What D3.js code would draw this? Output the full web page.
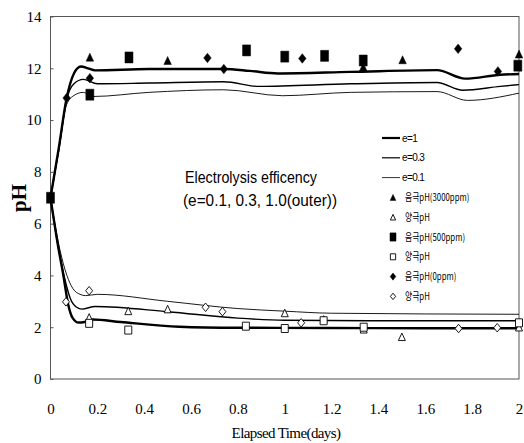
<!DOCTYPE html>
<html>
<head>
<meta charset="utf-8">
<script src="https://cdn.jsdelivr.net/npm/d3@7"></script>
<style>
  html, body { margin: 0; padding: 0; background: #fff; }
  svg { display: block; }
</style>
</head>
<body>
<svg id="chart" width="524" height="443"></svg>
<script>
// ---- data ----
const xTicks = [0, 0.2, 0.4, 0.6, 0.8, 1, 1.2, 1.4, 1.6, 1.8, 2];
const yTicks = [0, 2, 4, 6, 8, 10, 12, 14];

// model curves, [days, pH]
const cathodeE1 = [[0,7.0],[0.035,8.9],[0.069,10.85],[0.1,11.8],[0.13,12.07],[0.16,12.0],[0.19,11.92],[0.42,11.97],[0.74,11.97],[0.85,11.9],[0.97,11.8],[1.28,11.86],[1.65,11.93],[1.77,11.6],[1.92,11.75],[2.0,11.78]];
const cathodeE03 = [[0,7.0],[0.035,8.85],[0.069,10.8],[0.1,11.4],[0.14,11.57],[0.2,11.4],[0.42,11.43],[0.74,11.48],[0.89,11.3],[1.28,11.4],[1.65,11.45],[1.76,11.15],[1.92,11.3],[2.0,11.37]];
const cathodeE01 = [[0,7.0],[0.035,8.8],[0.069,10.6],[0.1,10.95],[0.14,11.07],[0.18,10.91],[0.42,11.07],[0.74,11.17],[0.99,10.94],[1.28,11.07],[1.65,11.1],[1.78,10.76],[2.0,11.04]];
const anodeE1 = [[0,7.0],[0.033,5.1],[0.055,4.0],[0.075,2.9],[0.095,2.35],[0.12,2.18],[0.145,2.2],[0.18,2.3],[0.3,2.2],[0.55,2.02],[0.8,1.98],[1.2,1.97],[1.6,1.96],[2.0,1.96]];
const anodeE03 = [[0,7.0],[0.035,5.0],[0.06,3.9],[0.085,3.1],[0.11,2.78],[0.135,2.7],[0.19,2.8],[0.5,2.6],[0.8,2.35],[1.0,2.27],[1.5,2.25],[2.0,2.25]];
const anodeE01 = [[0,7.0],[0.04,5.0],[0.07,4.0],[0.095,3.5],[0.126,3.27],[0.15,3.22],[0.2,3.27],[0.5,3.0],[0.8,2.72],[1.0,2.62],[1.2,2.54],[2.0,2.5]];

// measured points, [days, pH]
const cathode3000 = [[0.168,12.43],[0.5,12.3],[1.335,12.05],[1.503,12.33],[2.0,12.55]];
const anode3000 = [[0.165,2.38],[0.332,2.63],[0.5,2.7],[1.0,2.55],[1.166,2.3],[1.337,1.92],[1.5,1.63],[2.0,2.0]];
const cathode500 = [[0,7.0],[0.168,10.98],[0.335,12.42],[0.837,12.69],[1.0,12.45],[1.17,12.48],[1.335,12.3],[1.995,12.1]];
const anode500 = [[0.165,2.15],[0.332,1.89],[0.834,2.04],[1.0,1.95],[1.166,2.25],[1.337,2.0],[2.0,2.17]];
const cathode0 = [[0.069,10.85],[0.168,11.62],[0.67,12.4],[0.74,11.97],[1.075,12.38],[1.74,12.75],[1.91,11.88]];
const anode0 = [[0.066,2.98],[0.165,3.41],[0.662,2.77],[0.734,2.6],[1.07,2.17],[1.742,1.95],[1.907,1.98]];

const lineLabels = ["e=1", "e=0.3", "e=0.1"];
const pointLabels = ["음극pH(3000ppm)", "양극pH", "음극pH(500ppm)", "양극pH", "음극pH(0ppm)", "양극pH"];

// ---- layout ----
const svg = d3.select("#chart");
const m = { left: 50.5, right: 519, top: 16.5, bottom: 379 };
const x = d3.scaleLinear().domain([0, 2]).range([m.left, m.right]);
const y = d3.scaleLinear().domain([0, 14]).range([m.bottom, m.top]);

// frame
svg.append("rect")
  .attr("x", m.left).attr("y", m.top)
  .attr("width", m.right - m.left).attr("height", m.bottom - m.top)
  .attr("fill", "none").attr("stroke", "#555").attr("stroke-width", 1);

// axes
const fmt = d => String(+d.toFixed(1));
const xAxis = svg.append("g").attr("transform", `translate(0,${m.bottom})`)
  .call(d3.axisBottom(x).tickValues(xTicks).tickFormat(fmt).tickSize(0).tickPadding(24));
const yAxis = svg.append("g").attr("transform", `translate(${m.left},0)`)
  .call(d3.axisLeft(y).tickValues(yTicks).tickFormat(fmt).tickSizeInner(-3).tickSizeOuter(0).tickPadding(9));
[xAxis, yAxis].forEach(g => {
  g.select(".domain").remove();
  g.selectAll(".tick line").attr("stroke", "#555");
  g.selectAll("text").attr("font-family", "'Liberation Serif', serif")
    .attr("font-size", 15).attr("fill", "#000");
});

// axis titles
svg.append("text")
  .attr("x", 286).attr("y", 438).attr("text-anchor", "middle")
  .attr("font-family", "'Liberation Serif', serif").attr("font-size", 15)
  .attr("letter-spacing", -0.6)
  .text("Elapsed Time(days)");
svg.append("text")
  .attr("transform", "translate(26,198) rotate(-90)").attr("text-anchor", "middle")
  .attr("font-family", "'Liberation Serif', serif").attr("font-size", 21).attr("font-weight", "bold")
  .text("pH");

// model curves
const line = d3.line().x(d => x(d[0])).y(d => y(d[1])).curve(d3.curveMonotoneX);
const curveStyles = [
  { data: [cathodeE1, anodeE1], w: 2.4 },
  { data: [cathodeE03, anodeE03], w: 1.4 },
  { data: [cathodeE01, anodeE01], w: 0.9 }
];
curveStyles.forEach(s => s.data.forEach(d => {
  svg.append("path").attr("d", line(d))
    .attr("fill", "none").attr("stroke", "#000").attr("stroke-width", s.w);
}));

// marker shapes
function marker(g, kind, cx, cy, s) {
  const filled = kind.filled;
  const fill = filled ? "#000" : "#fff";
  const stroke = "#000";
  const sw = filled ? 0.5 : 0.9;
  const w = s * kind.w, h = s * kind.h;
  let p;
  if (kind.shape === "tri") {
    p = `M${cx},${cy - h / 2}L${cx + w / 2},${cy + h / 2}L${cx - w / 2},${cy + h / 2}Z`;
  } else if (kind.shape === "sq") {
    p = `M${cx - w / 2},${cy - h / 2}h${w}v${h}h${-w}Z`;
  } else {
    p = `M${cx},${cy - h / 2}L${cx + w / 2},${cy}L${cx},${cy + h / 2}L${cx - w / 2},${cy}Z`;
  }
  g.append("path").attr("d", p).attr("fill", fill).attr("stroke", stroke).attr("stroke-width", sw);
}
const kinds = [
  { shape: "tri", filled: true, w: 7.5, h: 8, data: cathode3000 },
  { shape: "tri", filled: false, w: 7, h: 7.5, data: anode3000 },
  { shape: "sq", filled: true, w: 8, h: 11, data: cathode500 },
  { shape: "sq", filled: false, w: 7, h: 8, data: anode500 },
  { shape: "dia", filled: true, w: 7.5, h: 9.5, data: cathode0 },
  { shape: "dia", filled: false, w: 7, h: 8.5, data: anode0 }
];
const pts = svg.append("g");
kinds.forEach(k => k.data.forEach(d => marker(pts, k, x(d[0]), y(d[1]), 1)));

// annotation
const note = svg.append("g").attr("font-family", "'Liberation Sans', Arial, sans-serif").attr("font-size", 16);
note.append("text").attr("x", 185).attr("y", 183).text("Electrolysis efficency")
  .attr("textLength", 132).attr("lengthAdjust", "spacingAndGlyphs");
note.append("text").attr("x", 183).attr("y", 206).text("(e=0.1, 0.3, 1.0(outer))")
  .attr("textLength", 154).attr("lengthAdjust", "spacingAndGlyphs");

// legend
const lg = svg.append("g").attr("transform", "translate(382,138)");
const rowH = 19.8;
const lw = [2.2, 1.2, 0.8];
lineLabels.forEach((t, i) => {
  const yy = i * rowH;
  lg.append("line").attr("x1", 0).attr("x2", 18).attr("y1", yy).attr("y2", yy)
    .attr("stroke", "#000").attr("stroke-width", lw[i]);
  lg.append("text").attr("x", 20).attr("y", yy + 3.5).text(t)
    .attr("font-family", "'Liberation Sans', Arial, sans-serif").attr("font-size", 10)
    .attr("letter-spacing", -0.6);
});
pointLabels.forEach((t, i) => {
  const yy = (i + 3) * rowH;
  marker(lg, kinds[i], 11, yy, 0.75);
  const tx = lg.append("text").attr("x", 23).attr("y", yy + 3.5).text(t)
    .attr("font-family", "'Noto Sans CJK KR', sans-serif").attr("font-size", 10);
  const len = tx.node().getComputedTextLength();
  tx.attr("textLength", len * 0.78).attr("lengthAdjust", "spacingAndGlyphs");
});
</script>
</body>
</html>
